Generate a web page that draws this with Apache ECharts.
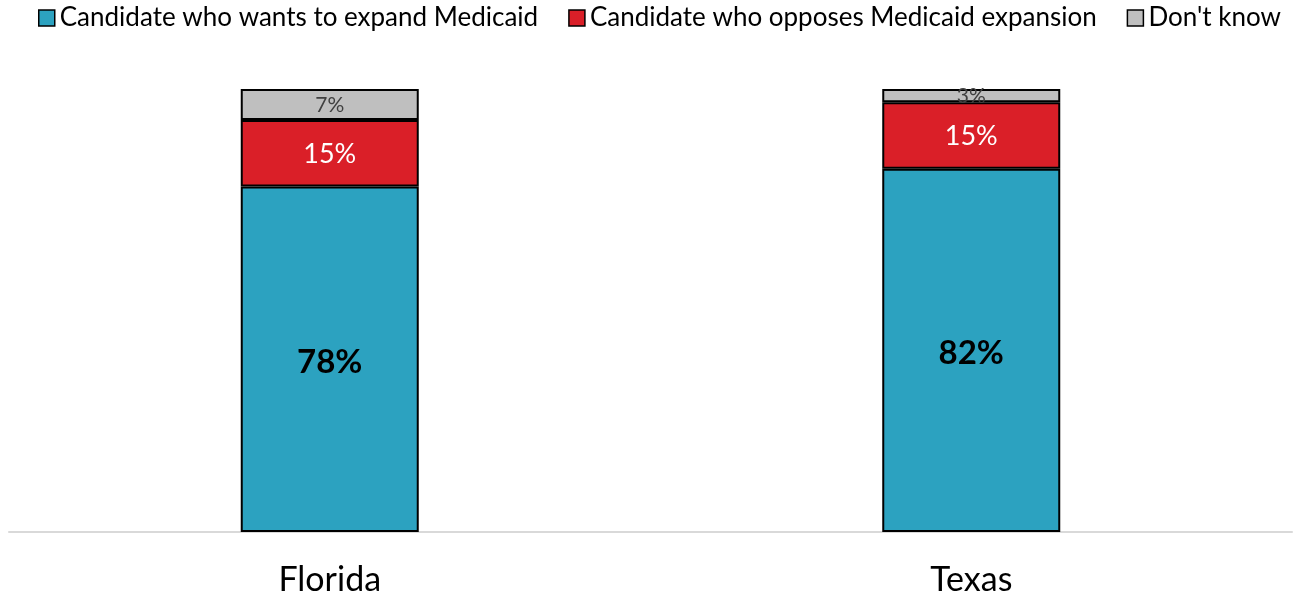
<!DOCTYPE html>
<html><head><meta charset="utf-8">
<script src="https://cdn.jsdelivr.net/npm/echarts@6/dist/echarts.min.js"></script>
<style>html,body{margin:0;padding:0;background:#fff}#c{width:1301px;height:595px}</style>
</head><body><div id="c"></div>
<script>
const categories = ['Florida', 'Texas'];
const expandValues = [78, 82];
const opposeValues = [15, 15];
const dontKnowValues = [7, 3];
const seriesNames = ['Candidate who wants to expand Medicaid', 'Candidate who opposes Medicaid expansion', "Don't know"];

const FONT = 'Lato';
const chart = echarts.init(document.getElementById('c'));
chart.setOption({
  animation: false,
  textStyle: { fontFamily: FONT },
  legend: {
    top: 0, left: 33,
    itemWidth: 16, itemHeight: 16, itemGap: 30,
    icon: 'rect',
    textStyle: { fontSize: 26, color: '#000', fontFamily: FONT },
    itemStyle: { borderColor: '#000', borderWidth: 1.5 },
    data: seriesNames
  },
  grid: { left: 9, right: 9, top: 89, bottom: 63, containLabel: false, outerBoundsMode: 'none' },
  xAxis: {
    type: 'category', data: categories,
    axisLine: { show: true, lineStyle: { color: '#d9d9d9', width: 2 } },
    axisTick: { show: false },
    axisLabel: { fontSize: 34, color: '#000', margin: 31, fontFamily: FONT }
  },
  yAxis: { type: 'value', min: 0, max: 100, show: false, splitLine: { show: false } },
  series: [
    {
      name: seriesNames[0], type: 'bar', stack: 's', data: expandValues, barWidth: 178,
      itemStyle: { color: '#2CA2C0', borderColor: '#000', borderWidth: 2 },
      label: { show: true, position: 'inside', formatter: '{c}%', fontSize: 33, fontWeight: 'bold', color: '#000', fontFamily: FONT, offset: [0, 3] }
    },
    {
      name: seriesNames[1], type: 'bar', stack: 's', data: opposeValues, barWidth: 178,
      itemStyle: { color: '#DA1F28', borderColor: '#000', borderWidth: 2 },
      label: { show: true, position: 'inside', formatter: '{c}%', fontSize: 27, color: '#fff', fontFamily: FONT, offset: [0, 1] }
    },
    {
      name: seriesNames[2], type: 'bar', stack: 's', data: dontKnowValues, barWidth: 178,
      itemStyle: { color: '#BFBFBF', borderColor: '#000', borderWidth: 2 },
      label: { show: true, position: 'inside', formatter: '{c}%', fontSize: 21, color: '#404040', fontFamily: FONT, offset: [0, 1] }
    }
  ]
});
</script></body></html>
